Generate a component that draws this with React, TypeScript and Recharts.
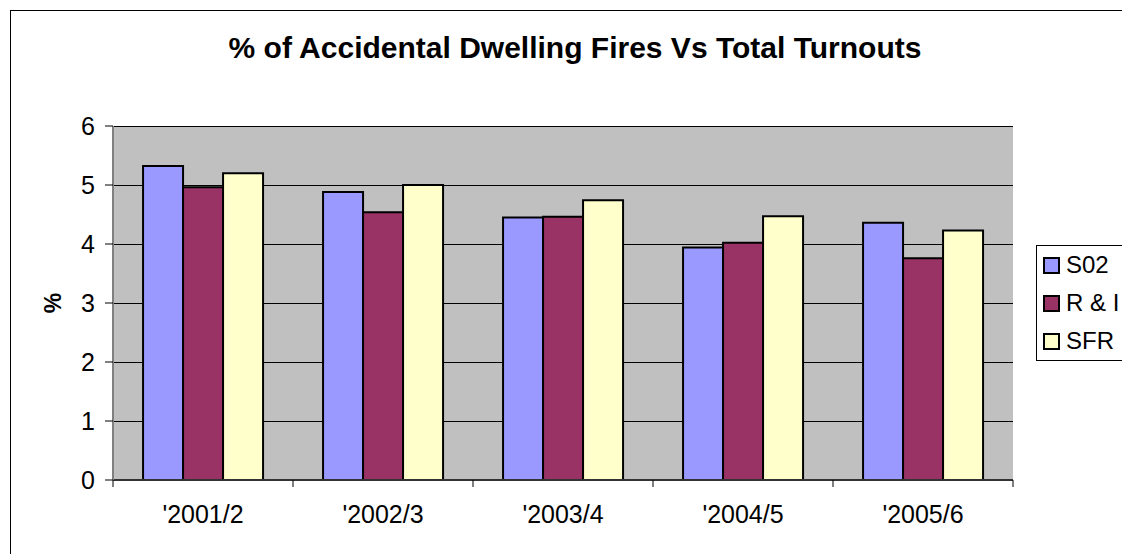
import React from "react";
import {
  Bar,
  BarChart,
  CartesianGrid,
  Legend,
  XAxis,
  YAxis,
} from "recharts";

const categories = ["'2001/2", "'2002/3", "'2003/4", "'2004/5", "'2005/6"];
const s02 = [5.32, 4.88, 4.45, 3.94, 4.36];
const rAndI = [4.96, 4.54, 4.46, 4.02, 3.76];
const sfr = [5.2, 5.0, 4.74, 4.47, 4.23];
const yTicks = [0, 1, 2, 3, 4, 5, 6];

const SERIES = [
  { key: "s02", name: "S02", color: "#9999FF" },
  { key: "ri", name: "R & I", color: "#993366" },
  { key: "sfr", name: "SFR", color: "#FFFFCC" },
];

const data = categories.map((c, i) => ({
  name: c,
  s02: s02[i],
  ri: rAndI[i],
  sfr: sfr[i],
}));

const FONT = "'Liberation Sans', Arial, sans-serif";

function CategoryTick(props: any) {
  const { x, y, payload, index, visibleTicksCount } = props;
  const half = payload?.offset || 90;
  const last = index === (visibleTicksCount ?? categories.length) - 1;
  return (
    <g>
      <line x1={x - half} y1={y} x2={x - half} y2={y + 7} stroke="#000" />
      {last && <line x1={x + half} y1={y} x2={x + half} y2={y + 7} stroke="#000" />}
      <text
        x={x}
        y={y + 43}
        textAnchor="middle"
        fontSize={25}
        fontFamily={FONT}
        fill="#000"
      >
        {payload.value}
      </text>
    </g>
  );
}

function LegendBox() {
  return (
    <div
      style={{
        border: "1px solid #000",
        background: "#fff",
        width: 110,
        height: 116,
        boxSizing: "border-box",
        paddingTop: 0,
        paddingLeft: 6,
        textAlign: "left",
      }}
    >
      {SERIES.map((s) => (
        <div
          key={s.key}
          style={{
            display: "flex",
            alignItems: "center",
            height: 38,
            fontFamily: FONT,
            fontSize: 24,
            color: "#000",
            whiteSpace: "nowrap",
          }}
        >
          <span
            style={{
              display: "inline-block",
              width: 13,
              height: 13,
              border: "2px solid #000",
              background: s.color,
              marginRight: 6,
            }}
          />
          {s.name}
        </div>
      ))}
    </div>
  );
}

export default function App() {
  return (
    <div
      style={{
        position: "absolute",
        left: 0,
        top: 0,
        width: 1122,
        height: 554,
        overflow: "hidden",
        background: "#fff",
      }}
    >
      <div
        style={{
          position: "absolute",
          left: 10,
          top: 10,
          width: 1200,
          height: 700,
          border: "1px solid #000",
        }}
      />
      <div
        style={{
          position: "absolute",
          left: 0,
          top: 33,
          width: 1150,
          textAlign: "center",
          fontFamily: FONT,
          fontWeight: "bold",
          fontSize: 30,
          lineHeight: "30px",
          color: "#000",
          whiteSpace: "nowrap",
        }}
      >
        % of Accidental Dwelling Fires Vs Total Turnouts
      </div>
      <div style={{ position: "absolute", left: 0, top: 0 }}>
        <BarChart
          width={1122}
          height={554}
          data={data}
          margin={{ top: 126, right: 109, bottom: 44, left: 0 }}
          barCategoryGap="16.7%"
          barGap={0}
        >
          <CartesianGrid
            vertical={false}
            stroke="#000"
            fill="#C0C0C0"
            fillOpacity={1}
            shapeRendering="crispEdges"
          />
          <XAxis
            dataKey="name"
            height={30}
            tickLine={false}
            tickSize={0}
            tickMargin={0}
            axisLine={{ stroke: "#333", strokeWidth: 2 }}
            tick={<CategoryTick />}
            interval={0}
          />
          <YAxis
            width={113}
            domain={[0, 6]}
            ticks={yTicks}
            tickSize={8}
            tickMargin={10}
            tickLine={{ stroke: "#000" }}
            axisLine={{ stroke: "#808080", strokeWidth: 2 }}
            tick={{ fontSize: 25, fontFamily: FONT, fill: "#000" }}
            label={() => (
              <text
                x={53}
                y={303}
                transform="rotate(-90 53 303)"
                textAnchor="middle"
                dominantBaseline="central"
                fontSize={23}
                fontWeight="bold"
                fontFamily={FONT}
                fill="#000"
              >
                %
              </text>
            )}
          />
          <YAxis
            yAxisId="right"
            orientation="right"
            width={0}
            domain={[0, 6]}
            ticks={yTicks}
            tick={false}
            tickLine={false}
            axisLine={{ stroke: "#808080", strokeWidth: 2 }}
          />
          <Legend
            layout="horizontal"
            verticalAlign="middle"
            align="center"
            content={<LegendBox />}
            wrapperStyle={{ left: 1036, top: 245, right: "auto", width: 110 }}
          />
          {SERIES.map((s) => (
            <Bar
              key={s.key}
              dataKey={s.key}
              name={s.name}
              fill={s.color}
              stroke="#000"
              strokeWidth={2}
              isAnimationActive={false}
            />
          ))}
        </BarChart>
      </div>
    </div>
  );
}
